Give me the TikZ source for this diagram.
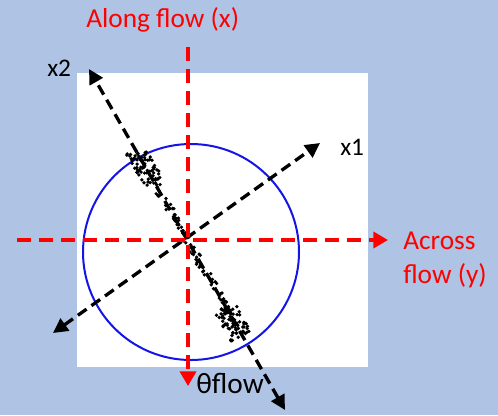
\documentclass[tikz,border=0pt]{standalone}
\usepackage{fontspec}
\setmainfont{Carlito}
\usetikzlibrary{arrows.meta}
\definecolor{bgblue}{HTML}{AFC4E5}
\definecolor{ringblue}{HTML}{1414E6}
\definecolor{axred}{HTML}{FF0000}
\begin{document}
\begin{tikzpicture}[x=0.75pt,y=-0.75pt,
  redaxis/.style={draw=axred, line width=3pt, dash pattern=on 10.5pt off 6pt, -{Triangle[length=11pt,width=12pt]}},
  blackaxis/.style={draw=black, line width=2.5pt, dash pattern=on 8pt off 4.5pt, {Triangle[length=11pt,width=11pt]}-{Triangle[length=11pt,width=11pt]}},
  redlabel/.style={text=axred, font=\fontsize{20.5}{24}\selectfont, inner sep=0pt, anchor=base west},
  blacklabel/.style={text=black, font=\fontsize{19}{22}\selectfont, inner sep=0pt, anchor=base west},
  dot/.style={fill=black}]
\useasboundingbox (0,0) rectangle (498,415);
\fill[bgblue] (0,0) rectangle (498,415);
\fill[white] (77,73) rectangle (368,367);
\node[circle, draw=ringblue, line width=1.5pt, minimum size=162pt, inner sep=0pt] (ring) at (191,252) {};
% scatter
\pgfmathsetseed{4217}
\foreach \i in {1,...,110}{
  \pgfmathsetmacro\s{-100+200*rnd}
  \pgfmathsetmacro\d{9*(rnd-0.5)}
  \fill[dot] ({187+\s*0.499-\d*0.868},{240+\s*0.868+\d*0.499}) circle (1.4pt);
}
\foreach \i in {1,...,60}{
  \pgfmathsetmacro\s{-86+40*(rnd-0.5)}
  \pgfmathsetmacro\d{20*(rnd-0.5)}
  \fill[dot] ({187+\s*0.499-\d*0.868},{240+\s*0.868+\d*0.499}) circle (1.4pt);
}
\foreach \i in {1,...,65}{
  \pgfmathsetmacro\s{94+36*(rnd-0.5)}
  \pgfmathsetmacro\d{24*(rnd-0.5)}
  \fill[dot] ({187+\s*0.499-\d*0.868},{240+\s*0.868+\d*0.499}) circle (1.4pt);
}
% black principal axes
\coordinate (x2a) at (89,69);
\coordinate (x2b) at (285,410);
\coordinate (x1a) at (53,333);
\coordinate (x1b) at (320,143);
\draw[blackaxis] (x2b) -- (x2a);
\draw[blackaxis] (x1a) -- (x1b);
% red flow axes
\coordinate (vtop) at (188,47);
\coordinate (vbot) at (188,386);
\coordinate (hl) at (17,240);
\coordinate (hr) at (388,240);
\draw[redaxis] (vtop) -- (vbot);
\draw[redaxis] (hl) -- (hr);
% labels
\node[redlabel] (along) at (86,27) {Along flow (x)};
\node[redlabel] (across) at (403,249) {Across};
\node[redlabel] (flowy) at (403,283) {flow (y)};
\node[blacklabel] (lx2) at (47,76) {x2};
\node[blacklabel] (lx1) at (340,155) {x1};
\node[text=black, font=\fontsize{22}{26}\selectfont, inner sep=0pt, anchor=base west] (theta) at (196,393) {θflow};
\end{tikzpicture}
\end{document}
